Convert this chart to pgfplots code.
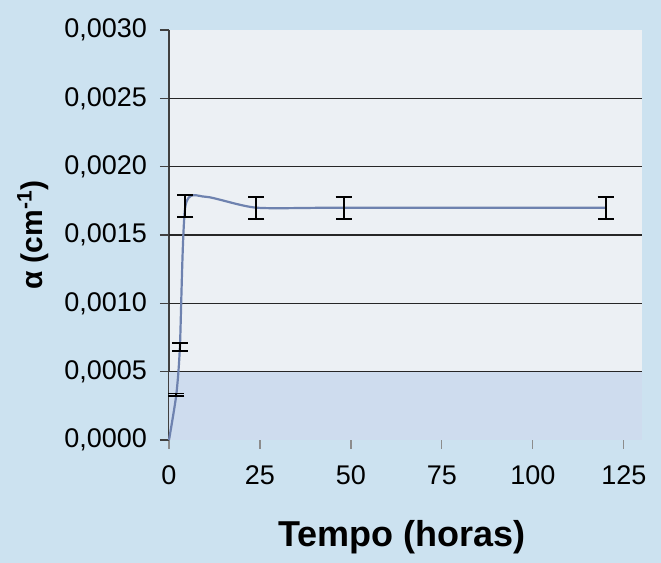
\documentclass[border=0pt]{standalone}
\usepackage{pgfplots}
\pgfplotsset{compat=1.18}
\usepackage{fontspec}
\setmainfont{Liberation Sans}
\definecolor{bgblue}{RGB}{204,226,240}
\definecolor{plotbg}{RGB}{236,240,244}
\definecolor{bandblue}{RGB}{206,220,238}
\definecolor{linecol}{RGB}{110,130,175}
\begin{document}
\begin{tikzpicture}
\fill[bgblue] (-84.5pt,-61.5pt) rectangle (246pt,220pt);
\useasboundingbox (-84.5pt,-61.5pt) rectangle (246pt,220pt);
\begin{axis}[
  scale only axis,
  width=236.5pt, height=205pt,
  xmin=0, xmax=130, ymin=0, ymax=0.003,
  axis background/.style={fill=plotbg},
  axis x line*=bottom,
  axis y line*=left,
  x axis line style={draw=none},
  y axis line style={draw=black!75, line width=0.7pt},
  xtick={0,25,50,75,100,125},
  ytick={0,0.0005,0.001,0.0015,0.002,0.0025,0.003},
  scaled y ticks=false,
  tick align=outside,
  major tick length=4.5pt,
  xtick style={draw=black!45, line width=0.6pt},
  ytick style={draw=black!75, line width=0.6pt},
  ticklabel style={font=\fontsize{13.5}{16}\selectfont},
  yticklabel style={xshift=-3pt, /pgf/number format/.cd, fixed, fixed zerofill, precision=4, use comma, assume math mode=true},
  xticklabel style={yshift=-5pt, /pgf/number format/.cd, assume math mode=true},
  ylabel={\textbf{α (cm\textsuperscript{-1})}},
  ylabel style={at={(axis description cs:-0.288,0.5)}, anchor=center, font=\fontsize{15}{18}\selectfont},
  xlabel={\textbf{Tempo (horas)}},
  xlabel style={at={(axis description cs:0.493,0)}, anchor=center, yshift=-48.5pt, font=\fontsize{18}{21}\selectfont},
  clip=false,
]
\addplot[draw=none, fill=bandblue, forget plot] coordinates {(0,0) (130,0) (130,0.0005) (0,0.0005)} -- cycle;
\addplot[draw=black!85, line width=0.7pt, forget plot] coordinates {(0,0.0005) (130,0.0005)};
\addplot[draw=black!85, line width=0.7pt, forget plot] coordinates {(0,0.0010) (130,0.0010)};
\addplot[draw=black!85, line width=0.7pt, forget plot] coordinates {(0,0.0015) (130,0.0015)};
\addplot[draw=black!85, line width=0.7pt, forget plot] coordinates {(0,0.0020) (130,0.0020)};
\addplot[draw=black!85, line width=0.7pt, forget plot] coordinates {(0,0.0025) (130,0.0025)};
\addplot[linecol, line width=1.1pt, smooth, tension=0.4, mark=none] coordinates {
  (0,0) (2,0.00033) (3,0.00068) (4.5,0.00171) (10,0.00178) (24,0.00170) (48,0.00170) (120,0.00170)
};
\addplot[draw=none, mark=none, black,
  error bars/.cd, y dir=both, y explicit,
  error bar style={line width=0.9pt, black},
  error mark options={rotate=90, mark size=4pt, line width=0.9pt, black}]
  coordinates {
  (2,0.00033) +- (0,0.00001)
  (3,0.00068) +- (0,0.00003)
  (4.5,0.00171) +- (0,0.00008)
  (24,0.00170) +- (0,0.00008)
  (48,0.00170) +- (0,0.00008)
  (120,0.00170) +- (0,0.00008)
};
\end{axis}
\end{tikzpicture}
\end{document}
